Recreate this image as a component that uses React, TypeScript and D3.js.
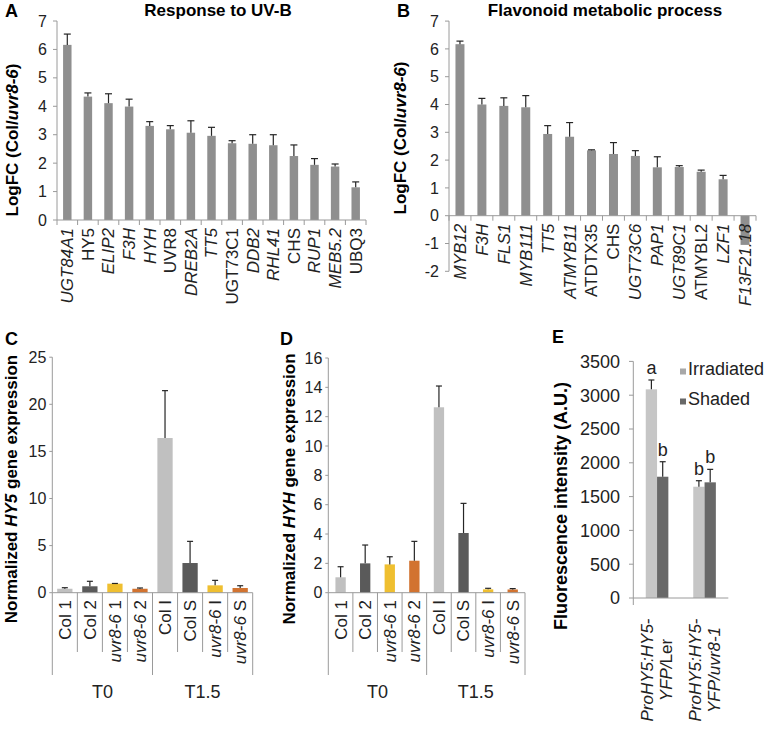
import React from 'react';
import * as d3 from 'd3';

const FONT = '"Liberation Sans", Arial, Helvetica, sans-serif';
const AXIS = '#9a9a9a';
const ERR = '#262626';
const BAR = '#8f8f8f';

// A: Response to UV-B
const genesA = ['UGT84A1', 'HY5', 'ELIP2', 'F3H', 'HYH', 'UVR8', 'DREB2A', 'TT5', 'UGT73C1', 'DDB2', 'RHL41', 'CHS', 'RUP1', 'MEB5.2', 'UBQ3'];
const logfcA = [6.16, 4.34, 4.11, 3.99, 3.31, 3.19, 3.07, 2.96, 2.70, 2.68, 2.63, 2.25, 1.94, 1.88, 1.15];
const errA = [0.38, 0.13, 0.33, 0.26, 0.15, 0.13, 0.42, 0.30, 0.09, 0.32, 0.37, 0.39, 0.22, 0.09, 0.19];
const uprightA = ['HY5', 'UVR8', 'UGT73C1', 'CHS', 'UBQ3'];

// B: Flavonoid metabolic process
const genesB = ['MYB12', 'F3H', 'FLS1', 'MYB111', 'TT5', 'ATMYB11', 'ATDTX35', 'CHS', 'UGT73C6', 'PAP1', 'UGT89C1', 'ATMYBL2', 'LZF1', 'F13F21.18'];
const logfcB = [6.17, 4.0, 3.95, 3.9, 2.94, 2.84, 2.35, 2.22, 2.15, 1.74, 1.75, 1.58, 1.31, -1.05];
const errB = [0.11, 0.22, 0.29, 0.42, 0.30, 0.51, 0.02, 0.41, 0.19, 0.38, 0.05, 0.06, 0.14, 0];
const uprightB = ['ATDTX35', 'CHS', 'ATMYBL2'];

// C, D: qPCR
const samples = ['Col 1', 'Col 2', 'uvr8-6 1', 'uvr8-6 2', 'Col I', 'Col S', 'uvr8-6 I', 'uvr8-6 S'];
const timepoints = ['T0', 'T1.5'];
const sampleColors = ['#c0c0c0', '#5a5a5a', '#efbf30', '#d27330'];
const hy5Expr = [0.42, 0.68, 0.96, 0.42, 16.42, 3.15, 0.78, 0.5];
const hy5Err = [0.11, 0.53, 0.02, 0.08, 5.03, 2.3, 0.53, 0.24];
const hyhExpr = [1.05, 2.0, 1.93, 2.18, 12.64, 4.07, 0.23, 0.22];
const hyhErr = [0.72, 1.25, 0.52, 1.32, 1.45, 2.02, 0.07, 0.06];

// E: fluorescence
const linesE = ['Ler', 'uvr8-1'];
const seriesE = ['Irradiated', 'Shaded'];
const irradiated = [3087, 1646];
const irradiatedErr = [138, 89];
const shaded = [1794, 1711];
const shadedErr = [222, 192];
const lettersIrr = ['a', 'b'];
const lettersShd = ['b', 'b'];
const colorsE = ['#c6c6c6', '#686868'];

function ErrBar({ cx, y1, y2, w = 7 }: { cx: number; y1: number; y2: number; w?: number }) {
  return (
    <g stroke={ERR} strokeWidth={1.2}>
      <line x1={cx} x2={cx} y1={y1} y2={y2} />
      <line x1={cx - w / 2} x2={cx + w / 2} y1={y2} y2={y2} />
    </g>
  );
}

type LogFCProps = {
  genes: string[]; values: number[]; errs: number[]; upright: string[];
  x0: number; x1: number; lo: number; hi: number; yLo: number; yHi: number;
  title: string; titleX: number; letter: string; letterX: number;
  axisTitleX: number; axisTitleY: number;
};

function LogFCPanel(p: LogFCProps) {
  const x = d3.scaleBand<string>().domain(p.genes).range([p.x0, p.x1]);
  const y = d3.scaleLinear().domain([p.lo, p.hi]).range([p.yLo, p.yHi]);
  const step = x.step();
  const bw = step * 0.41;
  const zero = y(0);
  const ticks = y.ticks(p.hi - p.lo);
  return (
    <g>
      <text x={p.letterX} y={17} fontSize={18} fontWeight="bold">{p.letter}</text>
      <text x={p.titleX} y={16} fontSize={17} fontWeight="bold" textAnchor="middle">{p.title}</text>
      <text transform={`translate(${p.axisTitleX},${p.axisTitleY}) rotate(-90)`} fontSize={17}
        fontWeight="bold" textAnchor="middle">
        LogFC (Col/<tspan fontStyle="italic">uvr8-6</tspan>)
      </text>
      <line x1={p.x0} x2={p.x0} y1={y(p.hi)} y2={y(p.lo)} stroke={AXIS} />
      {ticks.map(t => (
        <g key={t}>
          <line x1={p.x0 - 4} x2={p.x0} y1={y(t)} y2={y(t)} stroke={AXIS} />
          <text x={p.x0 - 10} y={y(t)} dy="0.35em" fontSize={16} textAnchor="end" fill="#222">{t}</text>
        </g>
      ))}
      {p.genes.map((g, i) => {
        const cx = (x(g) as number) + step / 2;
        const v = p.values[i];
        return (
          <g key={g}>
            <rect x={cx - bw / 2} width={bw} y={Math.min(y(v), zero)} height={Math.abs(y(v) - zero)} fill={BAR} />
            {p.errs[i] > 0 && <ErrBar cx={cx} y1={y(v)} y2={y(v + p.errs[i])} />}
          </g>
        );
      })}
      <line x1={p.x0} x2={p.x1} y1={zero} y2={zero} stroke={AXIS} />
      {d3.range(p.genes.length + 1).map(i => (
        <line key={i} x1={p.x0 + i * step} x2={p.x0 + i * step} y1={zero} y2={zero + 5} stroke={AXIS} />
      ))}
      {p.genes.map(g => (
        <text key={g} transform={`translate(${(x(g) as number) + step / 2},${zero + 8}) rotate(-90)`}
          dy="0.35em" fontSize={17} textAnchor="end" fill="#222"
          fontStyle={p.upright.includes(g) ? 'normal' : 'italic'}>{g}</text>
      ))}
    </g>
  );
}

type ExprProps = {
  values: number[]; errs: number[]; x0: number; x1: number; hi: number; yHi: number;
  tickCount: number; gene: string; letter: string; letterX: number; axisTitleX: number; barFrac: number;
};

function SampleLabel({ label }: { label: string }) {
  if (label.startsWith('uvr8-6')) {
    return <><tspan fontStyle="italic">uvr8-6</tspan>{label.slice(6)}</>;
  }
  return <>{label}</>;
}

function ExprPanel(p: ExprProps) {
  const x = d3.scaleBand<string>().domain(samples).range([p.x0, p.x1]);
  const y = d3.scaleLinear().domain([0, p.hi]).range([592.7, p.yHi]);
  const step = x.step();
  const bw = step * p.barFrac;
  const zero = y(0);
  return (
    <g>
      <text x={p.letterX} y={345} fontSize={18} fontWeight="bold">{p.letter}</text>
      <text transform={`translate(${p.axisTitleX},489) rotate(-90)`} fontSize={17} fontWeight="bold" textAnchor="middle">
        Normalized <tspan fontStyle="italic">{p.gene}</tspan> gene expression
      </text>
      <line x1={p.x0} x2={p.x0} y1={y(p.hi)} y2={zero} stroke={AXIS} />
      {y.ticks(p.tickCount).map(t => (
        <g key={t}>
          <line x1={p.x0 - 3} x2={p.x0} y1={y(t)} y2={y(t)} stroke={AXIS} />
          <text x={p.x0 - 6} y={y(t)} dy="0.35em" fontSize={16} textAnchor="end" fill="#222">{t}</text>
        </g>
      ))}
      {samples.map((s, i) => {
        const cx = (x(s) as number) + step / 2;
        const v = p.values[i];
        return (
          <g key={s}>
            <rect x={cx - bw / 2} width={bw} y={y(v)} height={zero - y(v)} fill={sampleColors[i % 4]} />
            <ErrBar cx={cx} y1={y(v)} y2={y(v + p.errs[i])} w={6} />
          </g>
        );
      })}
      <line x1={p.x0} x2={p.x1} y1={zero} y2={zero} stroke={AXIS} />
      {d3.range(samples.length + 1).map(i => (
        <line key={i} x1={p.x0 + i * step} x2={p.x0 + i * step} y1={zero}
          y2={i % 4 === 0 ? 675 : 652} stroke={AXIS} />
      ))}
      {samples.map(s => (
        <text key={s} transform={`translate(${(x(s) as number) + step / 2},600) rotate(-90)`}
          dy="0.35em" fontSize={17} textAnchor="end" fill="#222">
          <SampleLabel label={s} />
        </text>
      ))}
      {timepoints.map((t, g) => (
        <text key={t} x={p.x0 + (g * 4 + 2) * step} y={698} fontSize={18} textAnchor="middle" fill="#222">{t}</text>
      ))}
    </g>
  );
}

function PanelE() {
  const x = d3.scaleBand<string>().domain(linesE).range([633.3, 728.3]);
  const sub = d3.scaleBand<string>().domain(seriesE).range([-11.3, 11.3]);
  const y = d3.scaleLinear().domain([0, 3500]).range([598, 361.4]);
  const step = x.step();
  const zero = y(0);
  const vals = [irradiated, shaded];
  const errs = [irradiatedErr, shadedErr];
  const letters = [lettersIrr, lettersShd];
  return (
    <g>
      <text x={552} y={343} fontSize={18} fontWeight="bold">E</text>
      <text transform="translate(567,506) rotate(-90)" fontSize={18} fontWeight="bold" textAnchor="middle">
        Fluorescence intensity (A.U.)
      </text>
      <line x1={633.3} x2={633.3} y1={y(3500)} y2={zero} stroke={AXIS} />
      {y.ticks(7).map(t => (
        <g key={t}>
          <line x1={629} x2={633.3} y1={y(t)} y2={y(t)} stroke={AXIS} />
          <text x={620} y={y(t)} dy="0.35em" fontSize={18} textAnchor="end" fill="#222">{t}</text>
        </g>
      ))}
      {linesE.map((l, gi) => {
        const c = (x(l) as number) + step / 2;
        return seriesE.map((s, si) => {
          const bx = c + (sub(s) as number);
          const v = vals[si][gi];
          const top = y(v + errs[si][gi]);
          return (
            <g key={l + s}>
              <rect x={bx} width={sub.bandwidth()} y={y(v)} height={zero - y(v)} fill={colorsE[si]} />
              <ErrBar cx={bx + sub.bandwidth() / 2} y1={y(v)} y2={top} w={6} />
              <text x={bx + sub.bandwidth() / 2} y={top - 6} fontSize={18} textAnchor="middle" fill="#222">
                {letters[si][gi]}
              </text>
            </g>
          );
        });
      })}
      <line x1={633.3} x2={728.3} y1={zero} y2={zero} stroke={AXIS} />
      <line x1={633.3} x2={633.3} y1={zero} y2={zero + 7} stroke={AXIS} />
      {linesE.map(l => {
        const c = (x(l) as number) + step / 2;
        return (
          <g key={l} fontSize={17} fill="#222">
            <text transform={`translate(${c - 10},670) rotate(-90)`} dy="0.35em" textAnchor="middle" fontStyle="italic">
              ProHY5:HY5-
            </text>
            <text transform={`translate(${c + 9},670) rotate(-90)`} dy="0.35em" textAnchor="middle">
              <tspan fontStyle="italic">YFP/</tspan>
              {l === 'Ler' ? 'Ler' : <tspan fontStyle="italic">{l}</tspan>}
            </text>
          </g>
        );
      })}
      {seriesE.map((s, i) => (
        <g key={s}>
          <rect x={680} y={[368.5, 398.5][i]} width={6} height={6} fill={colorsE[i] === '#c6c6c6' ? '#a8a8a8' : colorsE[i]} />
          <text x={688} y={[375, 405][i]} fontSize={18} fill="#222">{s}</text>
        </g>
      ))}
    </g>
  );
}

export default function App() {
  return (
    <svg width={770} height={731} viewBox="0 0 770 731"
      style={{ position: 'absolute', left: 0, top: 0, background: '#fff' }} fontFamily={FONT}>
      <rect width={770} height={731} fill="#fff" />
      <LogFCPanel genes={genesA} values={logfcA} errs={errA} upright={uprightA}
        x0={57} x1={366} lo={0} hi={7} yLo={220} yHi={21}
        title="Response to UV-B" titleX={218} letter="A" letterX={5} axisTitleX={18} axisTitleY={140} />
      <LogFCPanel genes={genesB} values={logfcB} errs={errB} upright={uprightB}
        x0={449} x1={756} lo={-2} hi={7} yLo={271.3} yHi={21.1}
        title="Flavonoid metabolic process" titleX={605} letter="B" letterX={397} axisTitleX={406} axisTitleY={138} />
      <ExprPanel values={hy5Expr} errs={hy5Err} x0={52.3} x1={252.7} hi={25} yHi={357.2} tickCount={5}
        gene="HY5" letter="C" letterX={5} axisTitleX={17} barFrac={0.61} />
      <ExprPanel values={hyhExpr} errs={hyhErr} x0={328.3} x1={525} hi={16} yHi={358} tickCount={8}
        gene="HYH" letter="D" letterX={280} axisTitleX={295} barFrac={0.42} />
      <PanelE />
    </svg>
  );
}
